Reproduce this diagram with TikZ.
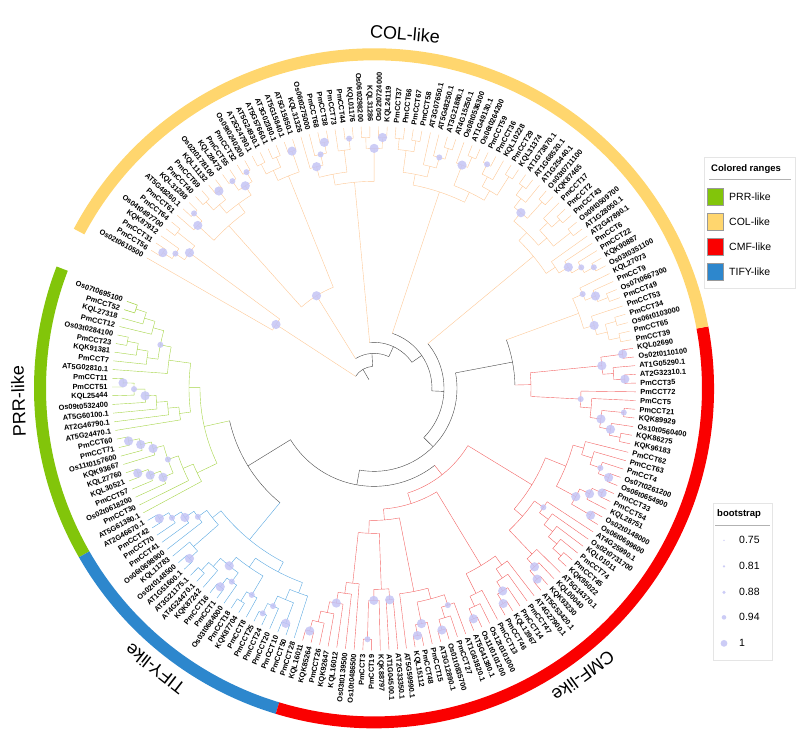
\documentclass[tikz,border=0pt]{standalone}
\usepackage{fontspec}
\setmainfont{Liberation Sans}
\pgfdeclarelayer{front}
\pgfsetlayers{main,front}

\definecolor{prrring}{RGB}{130,197,10}
\definecolor{colring}{RGB}{255,214,110}
\definecolor{cmfring}{RGB}{250,0,0}
\definecolor{tifyring}{RGB}{45,135,205}
\definecolor{brc0}{RGB}{70,70,70}
\definecolor{brc1}{RGB}{165,212,70}
\definecolor{brc2}{RGB}{253,200,150}
\definecolor{brc3}{RGB}{242,100,100}
\definecolor{brc4}{RGB}{90,168,225}
\definecolor{bsdot}{RGB}{196,196,245}

\tikzset{
  leaflbl/.style={font=\fontsize{7.4}{8}\selectfont\bfseries, inner sep=0.3pt},
  ringlbl/.style={font=\fontsize{18}{20}\selectfont, inner sep=1pt},
  legtitle/.style={font=\fontsize{9.5}{11}\selectfont\bfseries, anchor=west, inner sep=0pt},
  legtext/.style={font=\fontsize{10.5}{12}\selectfont, anchor=west, inner sep=0pt},
  legbox/.style={draw=black!10, fill=white},
  swatch/.style={draw=black!40, line width=0.4pt},
  bsfill/.style={fill=bsdot, fill opacity=0.85},
}

% tree drawn from a postfix list: leaf names push, m/s/b merge by depth,
% k<r> black merge at radius r, c<r>/d<r> coloured merge at radius r
\newcount\tpos \newcount\leafno
\def\RL{262}\def\stp{11}\def\astart{160.6}\def\astep{1.91}
\def\parsetok#1#2\relax{\def\tkind{#1}\def\targ{#2}}
\def\KM{m}\def\KS{s}\def\KB{b}\def\KK{k}\def\KC{c}\def\KD{d}
\newif\ifmergetok

\newcommand\pushleaf[1]{%
  \pgfmathsetmacro\la{\astart+\the\leafno*\astep}%
  \ifnum\leafno<26 \def\lg{1}\else\ifnum\leafno<49 \def\lg{4}\else
    \ifnum\leafno<110 \def\lg{3}\else\def\lg{2}\fi\fi\fi
  \global\advance\tpos by 1
  \expandafter\xdef\csname sa\the\tpos\endcsname{\la}%
  \expandafter\xdef\csname sr\the\tpos\endcsname{\RL}%
  \expandafter\xdef\csname sg\the\tpos\endcsname{\lg}%
  \pgfmathsetmacro\lnorm{mod(\la,360)}%
  \def\lanc{west}\let\lrot\lnorm
  \ifdim\lnorm pt>90pt \ifdim\lnorm pt<270pt
    \def\lanc{east}\pgfmathsetmacro\lrot{\lnorm-180}\fi\fi
  \pgfmathsetmacro\lr{\RL+4}%
  \node[leaflbl, anchor=\lanc, rotate=\lrot] (lf\the\leafno) at (\la:\lr pt) {#1};
  \global\advance\leafno by 1
}

\newcommand\mergetop{%
  \edef\ia{\the\numexpr\tpos-1\relax}\edef\ib{\the\tpos}%
  \edef\aA{\csname sa\ia\endcsname}\edef\rA{\csname sr\ia\endcsname}\edef\gA{\csname sg\ia\endcsname}%
  \edef\aB{\csname sa\ib\endcsname}\edef\rB{\csname sr\ib\endcsname}\edef\gB{\csname sg\ib\endcsname}%
  \ifnum\gA=\gB\relax \edef\gn{\gA}\else\def\gn{0}\fi
  \ifx\tkind\KK \def\rn{\targ}\def\gn{0}\else
    \ifx\tkind\KC \def\rn{\targ}\else
      \ifx\tkind\KD \def\rn{\targ}\else
        \pgfmathsetmacro\rn{min(\rA,\rB)-\stp}\fi\fi\fi
  \pgfmathsetmacro\an{(\aA+\aB)/2}%
  \draw[draw=brc\gn] (\aA:\rn pt) arc[start angle=\aA, end angle=\aB, radius=\rn pt];
  \draw[draw=brc\gA] (\aA:\rn pt) -- (\aA:\rA pt);
  \draw[draw=brc\gB] (\aB:\rn pt) -- (\aB:\rB pt);
  \begin{pgfonlayer}{front}
    \ifx\tkind\KB \fill[bsfill] (\an:\rn pt) circle[radius=4.6pt];\fi
    \ifx\tkind\KD \fill[bsfill] (\an:\rn pt) circle[radius=4.6pt];\fi
    \ifx\tkind\KS \fill[bsfill] (\an:\rn pt) circle[radius=3pt];\fi
  \end{pgfonlayer}
  \expandafter\xdef\csname sa\ia\endcsname{\an}%
  \expandafter\xdef\csname sr\ia\endcsname{\rn}%
  \expandafter\xdef\csname sg\ia\endcsname{\gn}%
  \global\advance\tpos by -1
}

\begin{document}
\begin{tikzpicture}[line width=0.55pt]
  \begin{scope}[shift={(-374pt,368pt)}, x=1pt, y=-1pt]
    \useasboundingbox (0,0) rectangle (796,718);
  \end{scope}

  % coloured ranges
  \foreach \ga/\gb/\gc/\gname/\gmid in {159/209.8/prrring/PRR-like/182,
      209.8/253.2/tifyring/TIFY-like/232, 253.2/370.5/cmfring/CMF-like/306,
      370.5/512/colring/COL-like/445}{
    \fill[\gc] (\ga:328pt) arc[start angle=\ga, end angle=\gb, radius=328pt]
      -- (\gb:340pt) arc[start angle=\gb, end angle=\ga, radius=340pt] -- cycle;
    \node[ringlbl, rotate=\gmid-90, anchor=south] (rng\gname) at (\gmid:348pt) {\gname};
  }

  % tree
  \foreach \t in {
    Os07t0695100,PmCCT52,m,KQL27318,m,PmCCT12,m,
    Os03t0284100,PmCCT23,m,KQK91381,m,PmCCT7,m,s,AT5G02810.1,m,
    PmCCT11,PmCCT51,b,KQL25444,s,Os09t0532400,b,AT5G60100.1,m,AT2G46790.1,m,AT5G24470.1,m,m,
    PmCCT60,PmCCT71,b,Os11t0157600,b,KQK93667,b,
    KQL27760,KQL30521,b,PmCCT57,b,Os02t0618200,b,s,PmCCT30,m,AT5G61380.1,m,m,
    AT2G46670.1,PmCCT42,b,PmCCT70,s,PmCCT41,b,Os06t0698900,s,
    KQL11783,Os02t0148500,AT1G51600.1,b,m,m,
    AT3G21175.1,AT4G24470.1,m,KQK87242,m,PmCCT16,PmCCT1,b,Os03t0684000,s,b,
    PmCCT18,KQK87704,m,PmCCT8,s,m,
    PmCCT25,PmCCT24,s,PmCCT20,s,PmCCT10,PmCCT50,b,m,PmCCT28,m,m,m,
    k148,
    KQL16011,KQK85264,b,PmCCT26,m,KQK92647,m,KQL16012,b,Os03t0139500,m,Os10t0486500,m,
    PmCCT3,PmCCT19,s,KQK88797,d212,AT1G04500.1,AT2G33350.1,d212,m,c145,
    AT5G59990.1,KQL15112,PmCCT48,b,PmCCT15,b,AT3G12890.1,Os01t0835700,b,PmCCT27,m,AT1G63820.1,s,m,m,c132,
    AT5G41380.1,Os11t0101200,b,Os12t0101000,m,PmCCT13,m,
    PmCCT46,KQL13967,b,PmCCT14,b,PmCCT47,m,AT4G27900.1,m,m,c121,
    AT5G53420.1,KQK93230,b,KQL00040,b,AT5G14370.1,m,
    KQK95022,PmCCT45,m,PmCCT74,m,KQL01011,m,Os02t0731700,m,AT4G25990.1,s,m,
    Os06t0699600,Os02t0148000,b,KQL28751,PmCCT54,PmCCT33,b,b,b,
    Os06t0654900,Os07t0261200,b,PmCCT4,s,PmCCT63,m,PmCCT62,m,m,m,c110,
    k98,
    KQK96183,KQK86275,m,Os10t0560400,b,KQK89929,PmCCT21,s,b,PmCCT5,m,PmCCT72,s,
    PmCCT35,AT2G32310.1,b,AT1G05290.1,m,Os02t0110100,KQL02690,b,b,c157,
    PmCCT39,PmCCT65,m,Os06t0103000,PmCCT34,m,m,PmCCT53,b,PmCCT49,Os07t0667300,m,PmCCT9,b,KQL27073,s,m,
    k141,k83,
    Os03t0351100,KQK90887,s,PmCCT22,s,PmCCT6,b,AT2G47890.1,m,
    AT1G28050.1,Os09t0509700,m,PmCCT43,PmCCT2,m,PmCCT17,m,m,
    KQK87465,Os03t0711100,m,AT1G25440.1,AT1G68520.1,AT1G73870.1,m,m,b,m,m,
    k70,
    KQL31374,PmCCT29,m,KQL10228,PmCCT36,PmCCT59,s,m,m,
    Os06t0264200,AT1G49130.1,m,Os08t0536300,b,m,
    AT4G15250.1,AT3G21880.1,m,AT5G48250.1,s,AT3G07650.1,m,
    PmCCT58,PmCCT67,m,PmCCT66,PmCCT37,m,m,m,m,
    k58,
    KQL24119,Os02t0724000,b,KQL31286,Os06t0298200,m,b,
    KQL01176,PmCCT44,s,PmCCT73,m,
    PmCCT38,PmCCT68,b,Os06t0275000,s,KQL31326,b,m,m,
    k46,
    AT5G15850.1,AT5G15840.1,b,AT3G02380.1,AT5G57660.1,m,AT5G24930.1,AT2G24790.1,m,m,m,
    Os09t0240200,PmCCT32,s,PmCCT55,KQL28473,s,b,
    Os02t0178100,KQL11132,b,PmCCT69,PmCCT40,m,m,m,
    KQL31288,AT5G48260.1,s,PmCCT61,b,m,d109,
    k35,
    PmCCT64,Os04t0497700,m,KQK87912,PmCCT31,PmCCT56,b,s,b,Os02t0610500,d117,
    k22}{%
    \expandafter\parsetok\t\relax
    \mergetokfalse
    \ifx\tkind\KM\mergetoktrue\fi
    \ifx\tkind\KS\mergetoktrue\fi
    \ifx\tkind\KB\mergetoktrue\fi
    \ifx\tkind\KK\mergetoktrue\fi
    \ifx\tkind\KC\mergetoktrue\fi
    \ifx\tkind\KD\mergetoktrue\fi
    \ifmergetok\mergetop\else\pushleaf{\t}\fi
  }
  \draw[draw=brc0] (\csname sa1\endcsname:22pt) -- (\csname sa1\endcsname:10pt);

  % legends
  \begin{scope}[shift={(-374pt,368pt)}, x=1pt, y=-1pt]
    \draw[legbox] (704,137) rectangle (795,268);
    \node[legtitle] (rangetitle) at (711,149) {Colored ranges};
    \draw[black!30, line width=1.2pt] (709,159) -- (791,159);
    \foreach \yy/\sc/\sn in {168/prrring/PRR-like, 193/colring/COL-like,
        218/cmfring/CMF-like, 243/tifyring/TIFY-like}{
      \filldraw[swatch, fill=\sc] (707,\yy) rectangle (723,\yy+17);
      \node[legtext] (leg\sn) at (729,\yy+8.5) {\sn};
    }
    \draw[legbox] (713,483) rectangle (772,640);
    \node[legtitle] (boottitle) at (717,494) {bootstrap};
    \draw[black!30, line width=1.2pt] (715,505) -- (770,505);
    \foreach \yy/\dr/\bv in {520/0.8/0.75, 546/1.2/0.81, 572/1.7/0.88, 597/2.3/0.94, 623/3.4/1}{
      \fill[bsfill] (724,\yy) circle[radius=\dr];
      \node[legtext] (boot\bv) at (739,\yy) {\bv};
    }
  \end{scope}
\end{tikzpicture}
\end{document}
